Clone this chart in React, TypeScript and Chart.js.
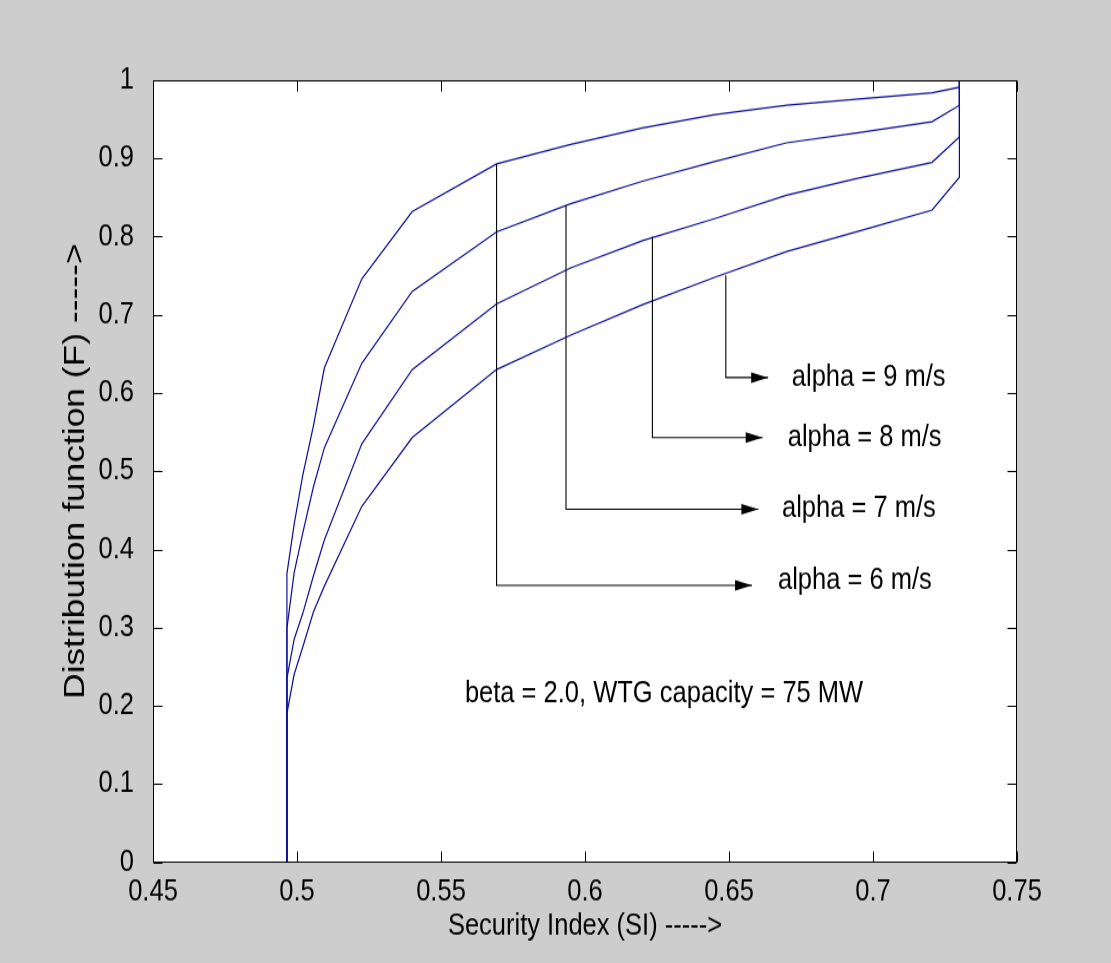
import React, { useEffect, useRef } from "react";
import { Chart, registerables } from "chart.js";

Chart.register(...registerables);

// ---- data ----
const SI = [0.4965, 0.4965, 0.499, 0.502, 0.5057, 0.5095, 0.5225, 0.54, 0.5693, 0.595, 0.62, 0.645, 0.67, 0.695, 0.7205, 0.73, 0.73];
const F_ALPHA6 = [0, 0.369, 0.432, 0.495, 0.558, 0.632, 0.746, 0.832, 0.893, 0.918, 0.939, 0.956, 0.968, 0.976, 0.984, 0.991, 1.0];
const F_ALPHA7 = [0, 0.299, 0.37, 0.421, 0.48, 0.53, 0.638, 0.73, 0.806, 0.842, 0.871, 0.896, 0.92, 0.933, 0.947, 0.968, 1.0];
const F_ALPHA8 = [0, 0.235, 0.285, 0.318, 0.366, 0.412, 0.535, 0.63, 0.714, 0.76, 0.795, 0.823, 0.853, 0.875, 0.895, 0.9275, 1.0];
const F_ALPHA9 = [0, 0.19, 0.24, 0.275, 0.32, 0.353, 0.455, 0.543, 0.63, 0.674, 0.713, 0.748, 0.781, 0.807, 0.834, 0.876, 1.0];
const SERIES = [F_ALPHA6, F_ALPHA7, F_ALPHA8, F_ALPHA9];

const X_TICKS = [0.45, 0.5, 0.55, 0.6, 0.65, 0.7, 0.75];
const X_TICK_LABELS = ["0.45", "0.5", "0.55", "0.6", "0.65", "0.7", "0.75"];
const Y_TICKS = [0, 0.1, 0.2, 0.3, 0.4, 0.5, 0.6, 0.7, 0.8, 0.9, 1];
const Y_TICK_LABELS = ["0", "0.1", "0.2", "0.3", "0.4", "0.5", "0.6", "0.7", "0.8", "0.9", "1"];

const X_TITLE = "Security Index (SI) ----->";
const Y_TITLE = "Distribution function (F) ----->";

// annotation leaders (data coordinates)
const ANNOTATION_LABELS = ["alpha = 6 m/s", "alpha = 7 m/s", "alpha = 8 m/s", "alpha = 9 m/s"];
const LEADER_X = [0.5693, 0.5934, 0.6234, 0.6489];
const LEADER_TOP = [0.893, 0.84, 0.8, 0.7506];
const LEADER_Y = [0.354, 0.4514, 0.543, 0.6198];
const ARROW_TIP_X = [0.658, 0.6602, 0.6617, 0.6636];
const LABEL_X = [0.667, 0.6684, 0.6704, 0.6718];
const LABEL_Y = [0.3606, 0.4514, 0.543, 0.6198];
const NOTE_TEXT = "beta = 2.0, WTG capacity = 75 MW";
const NOTE_X = 0.5583;
const NOTE_Y = 0.215;

// ---- layout ----
const PAGE_W = 1111;
const PAGE_H = 963;
const STRETCH = 1.18; // reference text is taller than wide
const CANVAS_H = Math.round(PAGE_H / STRETCH);
const FONT_FAMILY = "'Liberation Sans', Arial, Helvetica, sans-serif";
const CURVE_COLOR = "#0c0c9c";

const framePlugin = {
  id: "matlabFrame",
  beforeDraw(chart: any) {
    const { ctx, chartArea: a } = chart;
    ctx.save();
    ctx.fillStyle = "#ffffff";
    ctx.fillRect(a.left, a.top, a.right - a.left, a.bottom - a.top);
    ctx.restore();
  },
  afterDatasetsDraw(chart: any) {
    const { ctx, scales } = chart;
    const xs = scales.x;
    const ys = scales.y;
    ctx.save();
    ctx.fillStyle = "#000";
    for (let i = 0; i < ARROW_TIP_X.length; i++) {
      const tx = xs.getPixelForValue(ARROW_TIP_X[i]);
      const ty = ys.getPixelForValue(LEADER_Y[i]);
      ctx.beginPath();
      ctx.moveTo(tx, ty);
      ctx.lineTo(tx - 17, ty - 4.5);
      ctx.lineTo(tx - 17, ty + 4.5);
      ctx.closePath();
      ctx.fill();
    }
    ctx.font = `25.5px ${FONT_FAMILY}`;
    ctx.textAlign = "left";
    ctx.textBaseline = "middle";
    ctx.fillStyle = "#000";
    for (let i = 0; i < ANNOTATION_LABELS.length; i++) {
      ctx.fillText(ANNOTATION_LABELS[i], xs.getPixelForValue(LABEL_X[i]), ys.getPixelForValue(LABEL_Y[i]));
    }
    ctx.fillText(NOTE_TEXT, xs.getPixelForValue(NOTE_X), ys.getPixelForValue(NOTE_Y));
    ctx.restore();
  },
  afterDraw(chart: any) {
    const { ctx, chartArea: a, scales } = chart;
    const L = Math.round(a.left) + 0.5;
    const R = Math.round(a.right) - 0.5;
    const T = Math.round(a.top) + 0.5;
    const B = Math.round(a.bottom) - 0.5;
    const TL = 9;
    ctx.save();
    ctx.strokeStyle = "#000";
    ctx.lineWidth = 1;
    ctx.strokeRect(L, T, R - L, B - T);
    ctx.beginPath();
    for (const v of X_TICKS) {
      const px = Math.round(scales.x.getPixelForValue(v)) + 0.5;
      ctx.moveTo(px, B);
      ctx.lineTo(px, B - TL);
      ctx.moveTo(px, T);
      ctx.lineTo(px, T + TL);
    }
    for (const v of Y_TICKS) {
      const py = Math.round(scales.y.getPixelForValue(v)) + 0.5;
      ctx.moveTo(L, py);
      ctx.lineTo(L + TL, py);
      ctx.moveTo(R, py);
      ctx.lineTo(R - TL, py);
    }
    ctx.stroke();
    ctx.restore();
  },
};

export default function App() {
  const canvasRef = useRef<HTMLCanvasElement | null>(null);

  useEffect(() => {
    document.body.style.margin = "0";
    const canvas = canvasRef.current;
    if (!canvas) return;

    const curveSets = SERIES.map((f, si) => ({
      label: ANNOTATION_LABELS[si],
      data: SI.map((x, i) => ({ x, y: f[i] })),
      borderColor: CURVE_COLOR,
      borderWidth: 1.2,
      pointRadius: 0,
      showLine: true,
      fill: false,
      tension: 0,
    }));
    const leaderSets = LEADER_X.map((lx, i) => ({
      label: "leader " + ANNOTATION_LABELS[i],
      data: [
        { x: lx, y: LEADER_TOP[i] },
        { x: lx, y: LEADER_Y[i] },
        { x: ARROW_TIP_X[i], y: LEADER_Y[i] },
      ],
      borderColor: "#000000",
      borderWidth: 1.1,
      pointRadius: 0,
      showLine: true,
      fill: false,
      tension: 0,
    }));

    const tickFont = { family: FONT_FAMILY, size: 25.5 };

    const chart = new Chart(canvas, {
      type: "scatter",
      data: { datasets: [...leaderSets, ...curveSets] as any },
      plugins: [framePlugin],
      options: {
        animation: false,
        responsive: false,
        devicePixelRatio: 1,
        layout: { padding: { top: 68, right: 94, left: 0, bottom: 0 } },
        plugins: { legend: { display: false }, tooltip: { enabled: false } },
        scales: {
          x: {
            type: "linear",
            min: 0.45,
            max: 0.75,
            afterBuildTicks: (s: any) => {
              s.ticks = X_TICKS.map((v) => ({ value: v }));
            },
            afterFit: (s: any) => {
              s.height = CANVAS_H - 730.5;
            },
            grid: { display: false },
            border: { display: false },
            ticks: {
              autoSkip: false,
              maxRotation: 0,
              padding: 2,
              color: "#000",
              font: tickFont,
              callback: (_v: any, i: number) => X_TICK_LABELS[i],
            },
            title: {
              display: true,
              text: X_TITLE,
              color: "#000",
              font: tickFont,
              padding: { top: 0, bottom: 16 },
            },
          },
          y: {
            type: "linear",
            min: 0,
            max: 1,
            afterBuildTicks: (s: any) => {
              s.ticks = Y_TICKS.map((v) => ({ value: v }));
            },
            afterFit: (s: any) => {
              s.width = 153;
            },
            grid: { display: false },
            border: { display: false },
            ticks: {
              autoSkip: false,
              padding: 11,
              color: "#000",
              font: tickFont,
              callback: (_v: any, i: number) => Y_TICK_LABELS[i],
            },
            title: {
              display: true,
              text: Y_TITLE,
              color: "#000",
              font: { family: FONT_FAMILY, size: 30 },
              padding: { top: 58, bottom: 0 },
            },
          },
        },
      } as any,
    });

    return () => chart.destroy();
  }, []);

  return (
    <div
      style={{
        position: "absolute",
        left: 0,
        top: 0,
        width: PAGE_W,
        height: PAGE_H,
        background: "#cdcdcd",
        overflow: "hidden",
      }}
    >
      <canvas
        ref={canvasRef}
        width={PAGE_W}
        height={CANVAS_H}
        style={{ width: PAGE_W + "px", height: PAGE_H + "px", display: "block" }}
      />
    </div>
  );
}
